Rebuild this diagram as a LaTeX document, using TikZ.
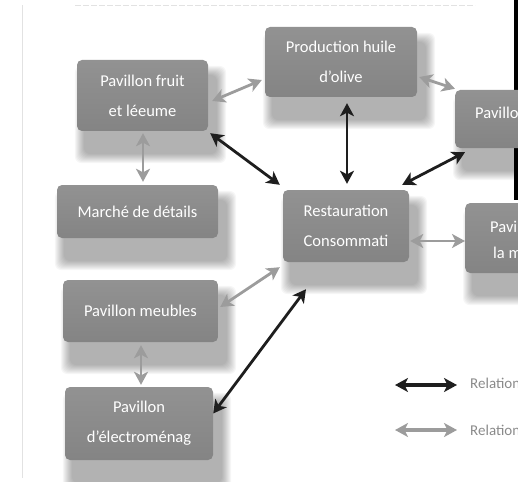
\documentclass[tikz,border=0pt]{standalone}
\usepackage{fontspec}
\setmainfont{Carlito}
\usetikzlibrary{arrows.meta,calc}
\definecolor{boxtop}{HTML}{929292}
\definecolor{boxbottom}{HTML}{848484}
\definecolor{linkgray}{HTML}{9C9C9C}
\definecolor{linkdark}{HTML}{1E1E1E}
\definecolor{framegray}{HTML}{E2E2E2}
\definecolor{legendtext}{HTML}{8A8A8A}
\pgfdeclarelayer{background}
\pgfsetlayers{background,main}

\begin{document}
\begin{tikzpicture}[x=1pt,y=-1pt,
  pav/.style={rectangle, rounded corners=5pt, top color=boxtop, bottom color=boxbottom,
    draw=none, text=white, font=\fontsize{16.5}{30}\selectfont, align=center, inner sep=0pt},
  pavtext/.style={text=white, font=\fontsize{16.5}{30}\selectfont, inner sep=0pt, anchor=base west},
  softlayer/.style={fill=black, opacity=0.035, rounded corners=7pt},
  headtip/.tip={Stealth[length=13pt,width=14pt,inset=3.5pt]},
  strong/.style={draw=linkdark, line width=2.8pt, {headtip}-{headtip}},
  weak/.style={draw=linkgray, line width=2.8pt, {headtip}-{headtip}},
  legendlabel/.style={text=legendtext, font=\fontsize{15}{18}\selectfont, inner sep=0pt, anchor=base west}]

\useasboundingbox (0,0) rectangle (518,481);
\clip (0,0) rectangle (518,481);

% faint page frame
\draw[framegray, line width=0.8pt] (22,5) -- (22,478);
\draw[framegray, line width=0.8pt, dash pattern=on 6pt off 2pt] (75,5) -- (475,5);

% dark edge on the right
\fill[black] (514,0) rectangle (518,200);

% pavilions
\node[pav, minimum width=131pt, minimum height=71pt] (fruit) at (142.5,95.5) {Pavillon fruit\\et léeume};
\node[pav, minimum width=152pt, minimum height=70pt] (prod) at (341,62) {Production huile\\d'olive};
\node[pav, minimum width=140pt, minimum height=58pt, anchor=west] (r1) at (455,119) {};
\node[pav, minimum width=161pt, minimum height=53pt] (marche) at (137.5,211.5) {Marché de détails};
\node[pav, minimum width=126pt, minimum height=72pt] (resto) at (346,226) {Restauration\\Consommati};
\node[pav, minimum width=140pt, minimum height=70pt, anchor=west] (r2) at (465,238) {};
\node[pav, minimum width=155pt, minimum height=62pt] (meubles) at (140.5,311) {Pavillon meubles};
\node[pav, minimum width=148pt, minimum height=73pt] (electro) at (139,423.5) {Pavillon\\d'électroménag};

\node[pavtext] (r1a) at (475,118.5) {Pavillon};
\node[pavtext] (r2a) at (490,232) {Pavillon};
\node[pavtext] (r2b) at (493,258) {la m};

% soft shadows under the pavilions
\begin{pgfonlayer}{background}
  \foreach \n in {fruit,prod,r1,marche,resto,r2,meubles,electro}
    \foreach \i in {0,...,9}
      \fill[softlayer] ($(\n.north west)+(-2+\i,6+\i)$) rectangle ($(\n.south east)+(18-\i,32-\i)$);
\end{pgfonlayer}

% weak relations
\draw[weak] ($(fruit.east)+(4,5.5)$) -- ($(prod.west)+(-3,18)$);
\draw[weak] ($(prod.east)+(2,15)$) -- ($(r1.north west)+(0,-1)$);
\draw[weak] ($(fruit.south)+(0.5,2)$) -- ($(fruit.south |- marche.north)+(0.5,-3)$);
\draw[weak] ($(resto.east)+(1,15)$) -- ($(r2.west)+(0,3)$);
\draw[weak] ($(meubles.east)+(2,-4)$) -- ($(resto.south west)+(-3,5)$);
\draw[weak] ($(meubles.south)+(0.5,3)$) -- ($(meubles.south |- electro.north)+(0.5,-2)$);

% strong relations
\draw[strong] ($(fruit.south east)+(2,2)$) -- ($(resto.north west)+(-3,-5)$);
\draw[strong] ($(resto.north |- prod.south)+(1,6)$) -- ($(resto.north)+(1,-6)$);
\draw[strong] ($(r1.south west)+(10,4)$) -- ($(resto.north east)+(-7,-5)$);
\draw[strong] ($(electro.east)+(0,-10)$) -- ($(resto.south)+(-40,27)$);

% legend
\coordinate (ls1) at (395,385);
\coordinate (le1) at (457,385);
\coordinate (ls2) at (395,430);
\coordinate (le2) at (457,430);
\draw[strong, line width=3.6pt] (ls1) -- (le1);
\draw[weak, line width=3.6pt] (ls2) -- (le2);
\node[legendlabel] (lt1) at (470,388.5) {Relation};
\node[legendlabel] (lt2) at (470,435) {Relation};
\end{tikzpicture}
\end{document}
